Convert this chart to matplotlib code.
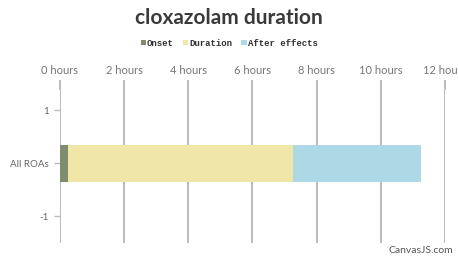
import matplotlib
matplotlib.use("Agg")
import matplotlib.pyplot as plt
from matplotlib.patches import Patch

title = "cloxazolam duration"
category = "All ROAs"
series_names = ["Onset", "Duration", "After effects"]
series_values = [0.25, 7.0, 4.0]
series_colors = ["#7f8d6e", "#f0e6a8", "#add8e6"]
x_ticks = [0, 2, 4, 6, 8, 10, 12]
x_tick_labels = [f"{v} hours" for v in x_ticks]
y_ticks = [1, 0, -1]
y_tick_labels = ["1", category, "-1"]

fig = plt.figure(figsize=(4.58, 2.62), dpi=100)
ax = fig.add_axes([0.131, 0.0725, 0.8406, 0.584])

left = 0
for name, val, col in zip(series_names, series_values, series_colors):
    ax.barh(0, val, left=left, height=0.7, color=col, label=name, zorder=3)
    left += val

ax.set_xlim(0, 12)
ax.set_ylim(-1.5, 1.38)
ax.xaxis.tick_top()
ax.set_xticks(x_ticks)
ax.set_xticklabels(x_tick_labels, fontsize=8, color="#777777", family="Lato")
ax.set_yticks(y_ticks)
ax.set_yticklabels(y_tick_labels, fontsize=7, color="#666666", family="Lato")
ax.tick_params(axis="x", length=7, width=1.4, color="#bbbbbb", pad=3)
ax.tick_params(axis="y", length=4, width=1, color="#bbbbbb", pad=4)
ax.grid(axis="x", color="#bbbbbb", linewidth=1.4, zorder=0)
for s in ax.spines.values():
    s.set_visible(False)

fig.text(0.5, 0.93, title, ha="center", va="center", fontsize=15,
         fontweight="bold", color="#3a3a3a", family="Lato")

handles = [Patch(facecolor=c, edgecolor="none") for c in series_colors]
fig.legend(handles, series_names, loc="center", bbox_to_anchor=(0.5, 0.835),
           ncol=3, frameon=False, prop={"family": "Liberation Mono", "size": 6.5, "weight": "bold"},
           handlelength=0.6, handleheight=0.6, handletextpad=0.1, columnspacing=1.0,
           labelcolor="#333333")

fig.text(0.99, 0.045, "CanvasJS.com", ha="right", va="center", fontsize=7.5,
         color="#555555", family="Lato")

fig.savefig("out.png", dpi=100)
